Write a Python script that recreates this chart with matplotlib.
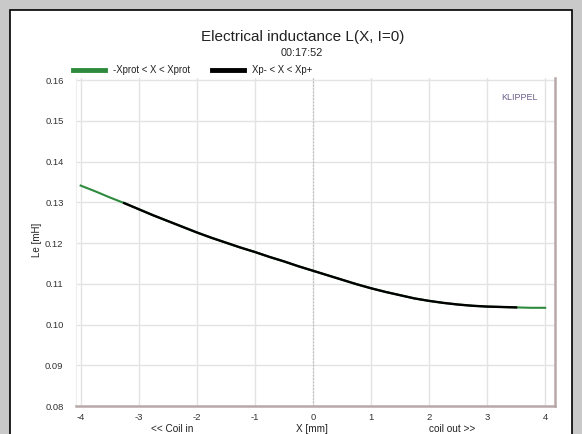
import matplotlib
matplotlib.use("Agg")
import matplotlib.pyplot as plt
import matplotlib.patches as mpatches
import numpy as np

plt.rcParams['font.family'] = ['Liberation Sans', 'DejaVu Sans']

# Data
x_mm = [-4.0, -3.75, -3.5, -3.25, -3.0, -2.75, -2.5, -2.25, -2.0, -1.75, -1.5, -1.25, -1.0,
        -0.75, -0.5, -0.25, 0.0, 0.25, 0.5, 0.75, 1.0, 1.25, 1.5, 1.75, 2.0, 2.25, 2.5, 2.75,
        3.0, 3.25, 3.5, 3.75, 4.0]
le_mh = [0.1341, 0.1327, 0.1312, 0.1298, 0.1283, 0.1268, 0.1254, 0.1240, 0.1226, 0.1213,
         0.1201, 0.1189, 0.1178, 0.1166, 0.1155, 0.1143, 0.1132, 0.1121, 0.1110, 0.1099,
         0.1089, 0.1080, 0.1072, 0.1064, 0.1058, 0.1053, 0.1049, 0.1046, 0.1044, 0.1043,
         0.1042, 0.1041, 0.1041]
xp_minus, xp_plus = -3.25, 3.5

x_ticks = [-4, -3, -2, -1, 0, 1, 2, 3, 4]
y_ticks = [0.08, 0.09, 0.10, 0.11, 0.12, 0.13, 0.14, 0.15, 0.16]

W, H = 582, 434
fig = plt.figure(figsize=(W / 100, H / 100), dpi=100, facecolor='#c9c9c9')

# white panel with black border
panel = mpatches.Rectangle((10 / W, -0.05), 562 / W, 1.05 - 10 / H, transform=fig.transFigure,
                           facecolor='white', edgecolor='black', linewidth=1.2, zorder=-5)
fig.patches.append(panel)

ax = fig.add_axes([76 / W, 28 / H, 479 / W, 328 / H])
ax.set_zorder(2)
ax.set_facecolor('white')

x = np.array(x_mm)
y = np.array(le_mh)
ax.plot(x, y, color='#2e8b3e', lw=1.5, zorder=3, solid_joinstyle='round')
m = (x >= xp_minus) & (x <= xp_plus)
ax.plot(x[m], y[m], color='black', lw=1.7, zorder=4, solid_joinstyle='round')

ax.set_xlim(-4.08, 4.17)
ax.set_ylim(0.08, 0.1605)
ax.set_xticks(x_ticks)
ax.set_xticklabels([str(t) for t in x_ticks])
ax.set_yticks(y_ticks)
ax.set_yticklabels([f"{t:.2f}" for t in y_ticks])
ax.tick_params(length=0, labelsize=6.8, labelcolor='#333333', pad=9)
ax.tick_params(axis='x', pad=5)

ax.grid(True, color='#e3e3e3', lw=1.0, zorder=1)
ax.axvline(0, color='#bbbbbb', lw=0.8, ls=(0, (1.5, 1.5)), zorder=2)

ax.spines['top'].set_visible(False)
ax.spines['left'].set_color('#eeeeee')
ax.spines['bottom'].set_color('#b8a8a8')
ax.spines['right'].set_color('#b8a8a8')
ax.spines['bottom'].set_linewidth(1.8)
ax.spines['right'].set_linewidth(1.8)

# Titles
fig.text(303 / W, 1 - 37 / H, 'Electrical inductance L(X, I=0)', ha='center', va='center',
         fontsize=11, color='#222222')
fig.text(302 / W, 1 - 53 / H, '00:17:52', ha='center', va='center', fontsize=7.8, color='#222222')

# Legend (manual)
ly = 1 - 70 / H
fig.add_artist(plt.Line2D([73 / W, 105 / W], [ly, ly], transform=fig.transFigure,
                          color='#2e8b3e', lw=3.5))
fig.text(113 / W, ly, '-Xprot < X < Xprot', ha='left', va='center', fontsize=6.9, color='#222222')
fig.add_artist(plt.Line2D([212 / W, 244 / W], [ly, ly], transform=fig.transFigure,
                          color='black', lw=3.5))
fig.text(252 / W, ly, 'Xp- < X < Xp+', ha='left', va='center', fontsize=6.9, color='#222222')

fig.text(519 / W, 1 - 97 / H, 'KLIPPEL', ha='center', va='center', fontsize=6.5, color='#6a5f8a')

# Axis labels
fig.text(37 / W, 1 - 240 / H, 'Le [mH]', rotation=90, ha='center', va='center', fontsize=7,
         color='#222222')
fig.text(172 / W, 1 - 429 / H, '<< Coil in', ha='center', va='center', fontsize=7.2, color='#222222')
fig.text(312 / W, 1 - 429 / H, 'X [mm]', ha='center', va='center', fontsize=7.2, color='#222222')
fig.text(452 / W, 1 - 429 / H, 'coil out >>', ha='center', va='center', fontsize=7.2, color='#222222')

fig.savefig('out.png', dpi=100, facecolor=fig.get_facecolor())
